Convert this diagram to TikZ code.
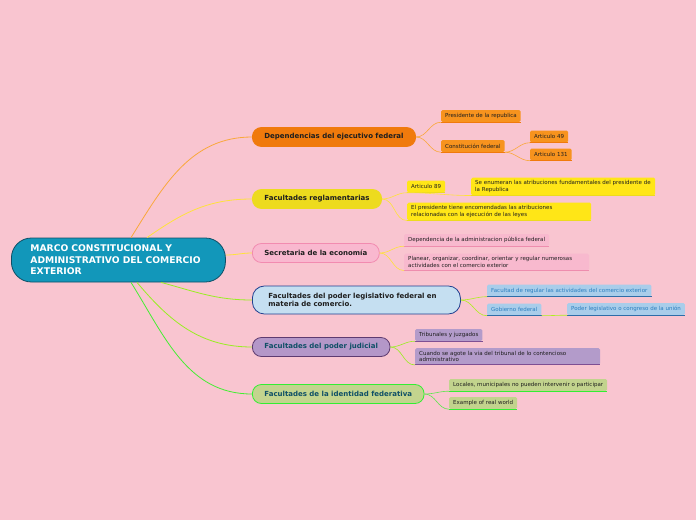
\documentclass[tikz,border=0pt]{standalone}
\usepackage{fontspec}
\setmainfont{DejaVu Sans}
\usepackage{tikz}
\usetikzlibrary{positioning, calc}
\usepackage{xcolor}
\hyphenpenalty=10000
\exhyphenpenalty=10000
\definecolor{bgpink}{HTML}{F9C5D0}
\definecolor{rootblue}{HTML}{1297BA}
\definecolor{rootedge}{HTML}{0E4F66}
\definecolor{ejecorange}{HTML}{F07A0C}
\definecolor{ejecleaf}{HTML}{F7931E}
\definecolor{ejecline}{HTML}{F9A83A}
\definecolor{reglyellow}{HTML}{EDDB1E}
\definecolor{reglleaf}{HTML}{FFE617}
\definecolor{reglline}{HTML}{FFE23A}
\definecolor{secpink}{HTML}{F9B8CF}
\definecolor{secedge}{HTML}{F28BB0}
\definecolor{secleaf}{HTML}{F8B9CE}
\definecolor{secline}{HTML}{EE8DAE}
\definecolor{legblue}{HTML}{C5DFF1}
\definecolor{legedge}{HTML}{1F3F8F}
\definecolor{legleaf}{HTML}{A9CDEA}
\definecolor{legtext}{HTML}{2B7FC0}
\definecolor{legline}{HTML}{2E6DA8}
\definecolor{judpurple}{HTML}{B497C8}
\definecolor{judedge}{HTML}{5E3B70}
\definecolor{judleaf}{HTML}{B39BCA}
\definecolor{judline}{HTML}{7E4F93}
\definecolor{idgreen}{HTML}{C3D48E}
\definecolor{idedge}{HTML}{33EE33}
\definecolor{idleaf}{HTML}{C2D38D}
\definecolor{limegreen}{HTML}{99EE22}
\definecolor{brightgreen}{HTML}{44EE33}
\definecolor{darktext}{HTML}{1E1E1E}

\tikzset{
  rootnode/.style={draw=rootedge, fill=rootblue, line width=0.8pt, rounded corners=20pt,
    text=white, font=\fontsize{9.2}{11.5}\selectfont\bfseries, align=left,
    text width=176pt, inner xsep=19pt, minimum height=44pt, anchor=west},
  mainnode/.style={rounded corners=9pt, line width=0.8pt, text=darktext,
    font=\fontsize{7}{8.5}\selectfont\bfseries, inner xsep=12pt, minimum height=19pt, anchor=west},
  leafnode/.style={rounded corners=1.5pt, text=darktext, font=\fontsize{5.5}{6.3}\selectfont,
    align=left, inner xsep=4pt, inner ysep=3pt, minimum height=12pt, anchor=west},
  link/.style={line width=0.8pt},
  twig/.style={line width=0.6pt}
}

\begin{document}
\begin{tikzpicture}[x=1pt, y=-1pt]
  \fill[bgpink] (0,0) rectangle (696,520);
  \useasboundingbox (0,0) rectangle (696,520);

  % central topic
  \node[rootnode] (root) at (11,260) {MARCO CONSTITUCIONAL Y\\ADMINISTRATIVO DEL COMERCIO\\EXTERIOR};

  % main branches
  \node[mainnode, draw=ejecorange, fill=ejecorange, minimum width=162pt] (ejec) at (252,137) {Dependencias del ejecutivo federal};
  \node[mainnode, draw=reglyellow, fill=reglyellow, minimum width=128pt] (regl) at (252,199) {Facultades reglamentarias};
  \node[mainnode, draw=secedge, fill=secpink, minimum width=126pt] (econ) at (252,253) {Secretaria de la economía};
  \node[mainnode, draw=legedge, fill=legblue, rounded corners=12pt, align=left, text width=176pt, inner xsep=16pt, minimum height=28pt] (legis) at (252,300) {Facultades del poder legislativo federal en\\materia de comercio.};
  \node[mainnode, draw=judedge, fill=judpurple, minimum width=137pt, text=rootedge] (judic) at (252,347) {Facultades del poder judicial};
  \node[mainnode, draw=idedge, fill=idgreen, minimum width=170pt, text=rootedge] (ident) at (252,394) {Facultades de la identidad federativa};

  % leaves
  \node[leafnode, fill=ejecleaf] (presi) at (441,116) {Presidente de la republica};
  \node[leafnode, fill=ejecleaf] (const) at (441,146) {Constitución federal};
  \node[leafnode, fill=ejecleaf] (art49) at (530,136.5) {Articulo 49};
  \node[leafnode, fill=ejecleaf] (art131) at (530,154.5) {Articulo 131};

  \node[leafnode, fill=reglleaf] (art89) at (407,186.5) {Articulo 89};
  \node[leafnode, fill=reglleaf, text width=176pt] (enum) at (471,186.5) {Se enumeran las atribuciones fundamentales del presidente de la Republica};
  \node[leafnode, fill=reglleaf, text width=176pt] (encom) at (407,211.5) {El presidente tiene encomendadas las atribuciones relacionadas con la ejecución de las leyes};

  \node[leafnode, fill=secleaf] (depen) at (404,240) {Dependencia de la administracion pública federal};
  \node[leafnode, fill=secleaf, text width=177pt] (plan) at (404,262) {Planear, organizar, coordinar, orientar y regular numerosas actividades con el comercio exterior};

  \node[leafnode, fill=legleaf, text=legtext] (regul) at (487,290.5) {Facultad de regular las actividades del comercio exterior};
  \node[leafnode, fill=legleaf, text=legtext] (gobfed) at (487,309.5) {Gobierno federal};
  \node[leafnode, fill=legleaf, text=legtext] (congr) at (567,309) {Poder legislativo o congreso de la unión};

  \node[leafnode, fill=judleaf] (trib) at (415,335) {Tribunales y juzgados};
  \node[leafnode, fill=judleaf, text width=177pt] (agote) at (415,356.5) {Cuando se agote la via del tribunal de lo contencioso administrativo};

  \node[leafnode, fill=idleaf] (local) at (449,385) {Locales, municipales no pueden intervenir o participar};
  \node[leafnode, fill=idleaf] (examp) at (449,403) {Example of real world};

  % leaf underlines
  \foreach \leaf/\col in {presi/ejecorange, const/ejecorange, art49/ejecorange, art131/ejecorange,
      art89/reglyellow, enum/reglyellow, encom/reglyellow, depen/secline, plan/secline,
      regul/legline, gobfed/legline, congr/legline, trib/judline, agote/judline,
      local/idedge, examp/idedge}
    \draw[\col, line width=1pt] (\leaf.south west) -- (\leaf.south east);

  % root to main branches
  \draw[link, ejecline] ([xshift=120pt]root.north west) to[out=58, in=180] (ejec.west);
  \draw[link, reglline] ([xshift=136pt]root.north west) to[out=35, in=180] (regl.west);
  \draw[link, reglline] ([yshift=5pt]root.east) to[out=0, in=180] (econ.west);
  \draw[link, limegreen] ([xshift=150pt]root.south west) to[out=-15, in=180] (legis.west);
  \draw[link, limegreen] ([xshift=126pt]root.south west) to[out=-50, in=180] (judic.west);
  \draw[link, brightgreen] ([xshift=120pt]root.south west) to[out=-58, in=180] (ident.west);

  % branches to leaves
  \draw[twig, ejecline] (ejec.east) to[out=0, in=180] (presi.south west);
  \draw[twig, ejecline] (ejec.east) to[out=0, in=180] (const.south west);
  \draw[twig, ejecline] (const.south east) to[out=0, in=180] (art49.south west);
  \draw[twig, ejecline] (const.south east) to[out=0, in=180] (art131.south west);

  \draw[twig, reglline] (regl.east) to[out=0, in=180] (art89.south west);
  \draw[twig, reglline] (regl.east) to[out=0, in=180] (encom.south west);
  \draw[twig, reglline] (art89.south west) to[out=0, in=180] (enum.south west);

  \draw[twig, reglline] (econ.east) to[out=0, in=180] (depen.south west);
  \draw[twig, reglline] (econ.east) to[out=0, in=180] (plan.south west);

  \draw[twig, limegreen!80!yellow] (legis.east) to[out=0, in=180] (regul.south west);
  \draw[twig, limegreen!80!yellow] (legis.east) to[out=0, in=180] (gobfed.south west);
  \draw[twig, limegreen!80!yellow] (gobfed.south east) to[out=0, in=180] (congr.south west);

  \draw[twig, limegreen] (judic.east) to[out=0, in=180] (trib.south west);
  \draw[twig, limegreen] (judic.east) to[out=0, in=180] (agote.south west);

  \draw[twig, idedge!70!idgreen] (ident.east) to[out=0, in=180] (local.south west);
  \draw[twig, idedge!70!idgreen] (ident.east) to[out=0, in=180] (examp.south west);
\end{tikzpicture}
\end{document}
